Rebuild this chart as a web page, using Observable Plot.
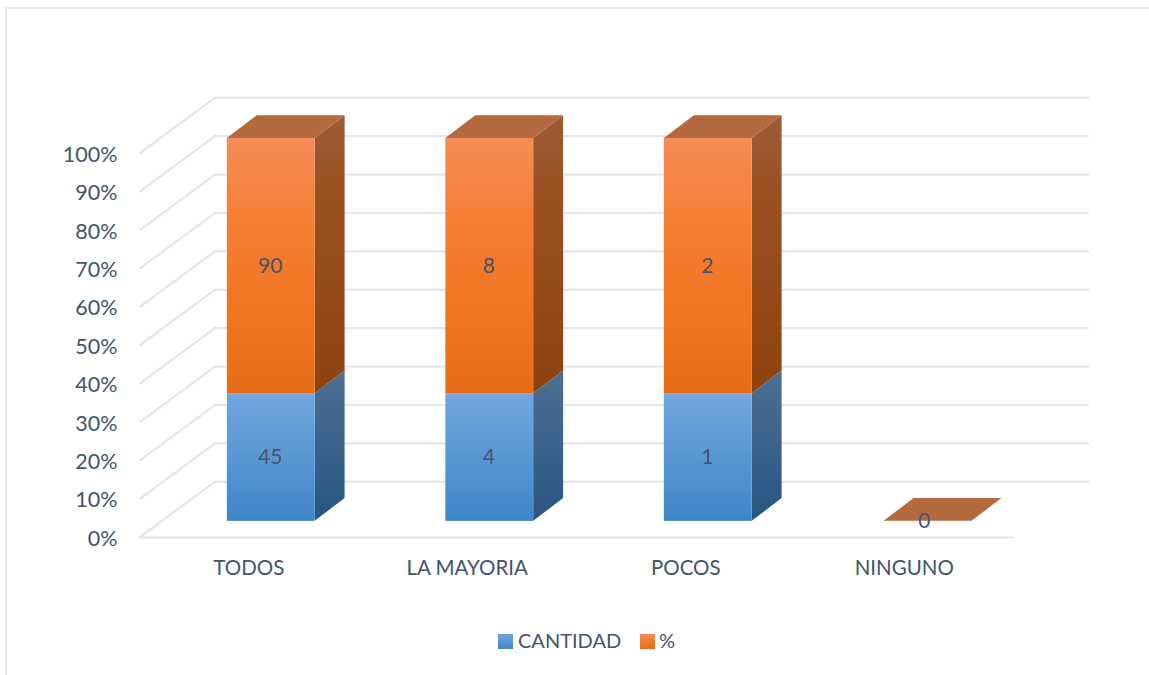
<!DOCTYPE html>
<html>
<head>
<meta charset="utf-8">
<script src="https://cdn.jsdelivr.net/npm/d3@7"></script>
<script src="https://cdn.jsdelivr.net/npm/@observablehq/plot@0.6"></script>
<style>
  html, body { margin: 0; padding: 0; background: #fff; overflow: hidden; }
  #frame { position: absolute; left: 5px; top: 7px; width: 1144px; height: 668px; box-sizing: border-box;
           border-left: 2.5px solid #e6e9ef; border-top: 2.5px solid #e6e9ef; }
  #chart { position: absolute; left: 0; top: 0; }
  #legend { position: absolute; left: 0; top: 625px; width: 1149px; height: 32px; font: 20px Lato, sans-serif; color: #44546a; }
  #legend .sw { position: absolute; top: 9px; width: 15px; height: 14.5px; }
  #legend .lb { position: absolute; top: 2px; line-height: 26px; white-space: nowrap; }
</style>
</head>
<body>
<div id="frame"></div>
<div id="chart"></div>
<div id="legend">
  <span class="sw" style="left:498px;background:linear-gradient(#6fa5dd,#3f86c9)"></span><span class="lb" style="left:518px">CANTIDAD</span>
  <span class="sw" style="left:640px;background:linear-gradient(#f58c52,#e86c15)"></span><span class="lb" style="left:659px">%</span>
</div>
<script>
const categories = ["TODOS", "LA MAYORIA", "POCOS", "NINGUNO"];
const cantidad = [45, 4, 1, 0];
const porcentaje = [90, 8, 2, 0];
const percentTicks = [0, 10, 20, 30, 40, 50, 60, 70, 80, 90, 100];

// Pseudo-3D projection, in data units of the x (category slot) and y (percent) scales
const wallX = 0.345, wallY = 14.5;           // chart back wall offset
const barLeft = 0.402, barWidth = 0.402;     // bar front within its slot
const barBase = 4.2, barScale = 0.997;       // bar front baseline and height factor
const depthX = 0.137, depthY = 5.95;         // bar depth offset

// Gridlines: floor front edge, side-wall diagonal and back-wall line
const grid = percentTicks.flatMap((p) => [
  {p, x: 0, y: p},
  {p, x: wallX, y: p + wallY},
  {p, x: categories.length + wallX, y: p + wallY}
]);
const floorFront = [{x: 0, y: 0}, {x: categories.length, y: 0}];

// Stacked 100% segments
const segments = categories.flatMap((c, i) => {
  const total = cantidad[i] + porcentaje[i];
  if (total === 0) return [];
  const split = (cantidad[i] / total) * 100;
  const x1 = i + barLeft, x2 = x1 + barWidth;
  return [
    {i, series: "blue", value: cantidad[i], x1, x2, y1: barBase, y2: barBase + split * barScale},
    {i, series: "orange", value: porcentaje[i], x1, x2, y1: barBase + split * barScale, y2: barBase + 100 * barScale}
  ];
});

const side = (s) => [
  {x: s.x2, y1: s.y1, y2: s.y2},
  {x: s.x2 + depthX, y1: s.y1 + depthY, y2: s.y2 + depthY}
];
const tops = categories.map((c, i) => {
  const total = cantidad[i] + porcentaje[i];
  const y = total === 0 ? barBase : barBase + 100 * barScale;
  const x1 = i + barLeft + (total === 0 ? 0.006 : 0);
  return {i, x1, x2: x1 + barWidth, y};
});
const topFace = (t) => [
  {y: t.y, x1: t.x1, x2: t.x2},
  {y: t.y + depthY, x1: t.x1 + depthX, x2: t.x2 + depthX}
];

const labels = categories.flatMap((c, i) => {
  const own = segments.filter((s) => s.i === i);
  if (own.length === 0) return [{x: tops[i].x1 + barWidth / 2 - 0.012, y: barBase, v: porcentaje[i]}];
  return own.map((s) => ({x: (s.x1 + s.x2) / 2, y: (s.y1 + s.y2) / 2, v: s.value}));
});

function gradient(defs, id, stops) {
  const g = defs.append("linearGradient").attr("id", id).attr("x1", 0).attr("y1", 0).attr("x2", 0).attr("y2", 1);
  stops.forEach(([o, c]) => g.append("stop").attr("offset", o + "%").attr("stop-color", c));
}
const defsMark = () => {
  const defs = d3.create("svg:defs");
  gradient(defs, "frontblue", [[0, "#72a7de"], [100, "#3f86c9"]]);
  gradient(defs, "frontorange", [[0, "#f48d58"], [30, "#f67f36"], [70, "#f17520"], [100, "#e66c17"]]);
  gradient(defs, "sideblue", [[0, "#4d6f93"], [100, "#285582"]]);
  gradient(defs, "sideorange", [[0, "#9c5c37"], [30, "#9a5020"], [100, "#8e430f"]]);
  return defs.node();
};

const textColor = "#44546a";
const plot = Plot.plot({
  width: 1149,
  height: 625,
  marginLeft: 139,
  marginRight: 136,
  marginTop: 153,
  marginBottom: 88,
  style: {background: "transparent", fontFamily: "Lato, sans-serif", fontSize: "21px", color: textColor, overflow: "visible"},
  x: {domain: [0, categories.length], label: null},
  y: {domain: [0, 100], label: null},
  marks: [
    defsMark,
    Plot.line(grid, {x: "x", y: "y", z: "p", stroke: "#e3e6ee", strokeWidth: 2.2, strokeLinecap: "butt"}),
    Plot.line(floorFront, {x: "x", y: "y", stroke: "#e3e6ee", strokeWidth: 2.2, strokeLinecap: "butt"}),
    Plot.axisY({ticks: percentTicks, tickSize: 0, tickPadding: 22, tickFormat: (d) => d + "%", label: null, fill: textColor, dy: 1.5, fontSize: 21.5}),
    Plot.axisX({ticks: categories.map((c, i) => i + 0.5), tickSize: 0, tickPadding: 23, tickFormat: (d) => categories[Math.floor(d)], label: null, fill: textColor, fontSize: 20.5}),
    ...segments.map((s) => Plot.areaY(side(s), {x: "x", y1: "y1", y2: "y2", fill: `url(#side${s.series})`})),
    Plot.rect(segments.filter((s) => s.series === "blue"), {x1: "x1", x2: "x2", y1: "y1", y2: "y2", fill: "url(#frontblue)"}),
    Plot.rect(segments.filter((s) => s.series === "orange"), {x1: "x1", x2: "x2", y1: "y1", y2: "y2", fill: "url(#frontorange)"}),
    ...tops.map((t) => Plot.areaX(topFace(t), {y: "y", x1: "x1", x2: "x2", fill: "#b5693e"})),
    Plot.text(labels, {x: "x", y: "y", text: "v", fill: textColor, fontSize: 21, dx: -1})
  ]
});
document.getElementById("chart").appendChild(plot);
</script>
</body>
</html>
